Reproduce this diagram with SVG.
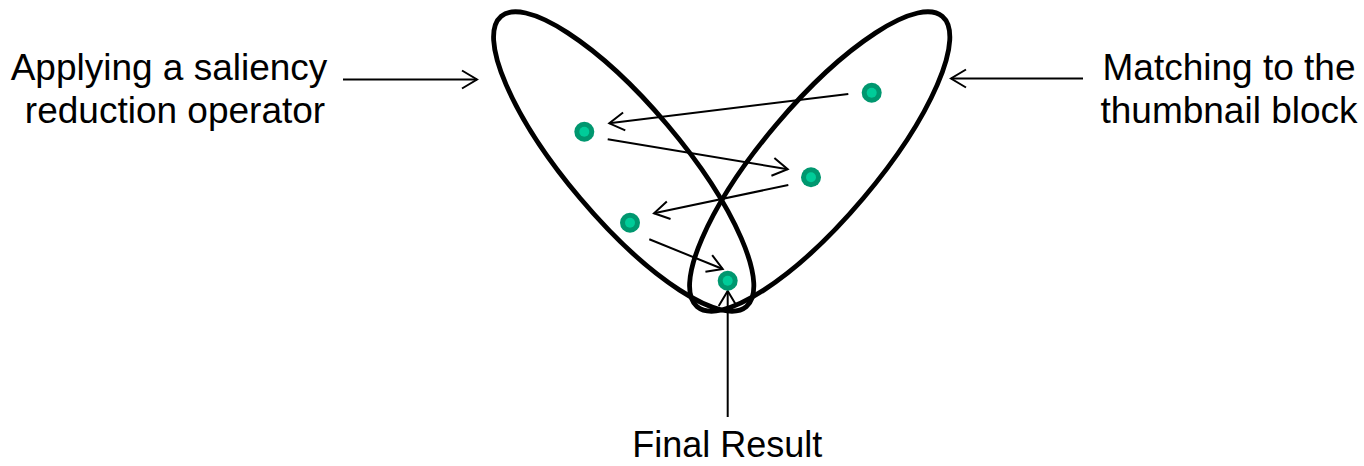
<svg xmlns="http://www.w3.org/2000/svg" width="1364" height="466" viewBox="0 0 1364 466">
  <style>
    .lobe { fill: none; stroke: #000; stroke-width: 4.8; }
    .conn { fill: none; stroke: #000; stroke-width: 2; marker-end: url(#chev); }
    .dot-o { fill: #00976F; }
    .dot-i { fill: #00CC99; }
    .lbl { font-family: "Liberation Sans", Arial, sans-serif; font-size: 37px; fill: #000; text-anchor: middle; }
  </style>
  <defs>
    <marker id="chev" markerUnits="userSpaceOnUse" viewBox="-20 -12 24 24" markerWidth="24" markerHeight="24" refX="0" refY="0" orient="auto" overflow="visible">
      <path d="M-15,-9 L0,0 L-15,9" fill="none" stroke="#000" stroke-width="2"/>
    </marker>
  </defs>

  <g id="lobe-left">
    <ellipse class="lobe" cx="623.7" cy="161.5" rx="190" ry="57" transform="rotate(49.8 623.7 161.5)"/>
  </g>
  <g id="lobe-right">
    <ellipse class="lobe" cx="819.7" cy="161.5" rx="190" ry="57" transform="rotate(-49.8 819.7 161.5)"/>
  </g>

  <g id="connectors">
    <line class="conn" x1="343" y1="79.5" x2="477" y2="79.5"/>
    <line class="conn" x1="1083" y1="78.5" x2="951" y2="78.5"/>
    <line class="conn" x1="727.7" y1="417" x2="727.7" y2="291"/>
    <line class="conn" x1="848.3" y1="94" x2="609.3" y2="123.3"/>
    <line class="conn" x1="607.7" y1="139.3" x2="787.7" y2="169.3"/>
    <line class="conn" x1="788.3" y1="185" x2="654" y2="213.3"/>
    <line class="conn" x1="649.3" y1="239.3" x2="722.7" y2="269"/>
  </g>

  <g id="dot-1"><circle class="dot-o" cx="584.3" cy="131.7" r="10"/><circle class="dot-i" cx="584.3" cy="131.7" r="5"/></g>
  <g id="dot-2"><circle class="dot-o" cx="871.7" cy="92.7" r="10"/><circle class="dot-i" cx="871.7" cy="92.7" r="5"/></g>
  <g id="dot-3"><circle class="dot-o" cx="811" cy="177.3" r="10"/><circle class="dot-i" cx="811" cy="177.3" r="5"/></g>
  <g id="dot-4"><circle class="dot-o" cx="630" cy="222.7" r="10"/><circle class="dot-i" cx="630" cy="222.7" r="5"/></g>
  <g id="dot-5"><circle class="dot-o" cx="727.7" cy="280.7" r="10"/><circle class="dot-i" cx="727.7" cy="280.7" r="5"/></g>

  <g id="label-left">
    <text class="lbl" x="169" y="80">Applying a saliency</text>
    <text class="lbl" x="175" y="123">reduction operator</text>
  </g>
  <g id="label-right">
    <text class="lbl" x="1229" y="80">Matching to the</text>
    <text class="lbl" x="1229" y="123">thumbnail block</text>
  </g>
  <g id="label-bottom">
    <text class="lbl" x="727.3" y="457" style="font-size:36px">Final Result</text>
  </g>
</svg>
